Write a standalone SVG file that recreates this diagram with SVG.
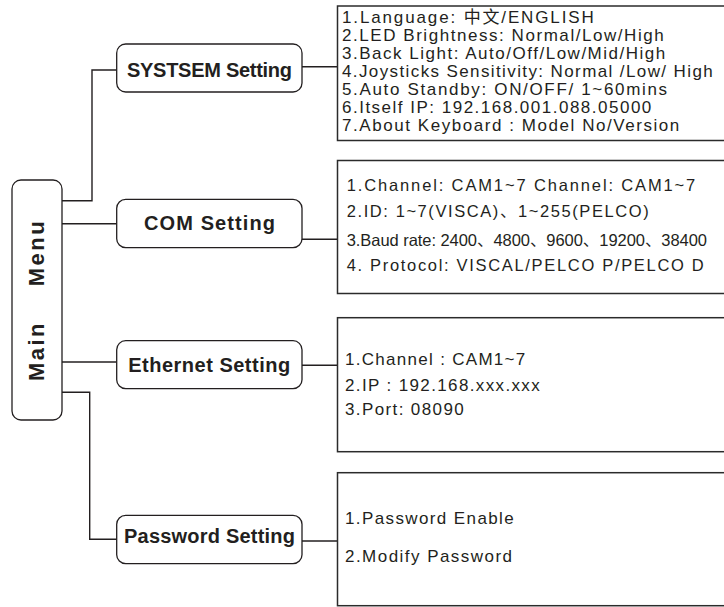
<svg xmlns="http://www.w3.org/2000/svg" width="724" height="607" viewBox="0 0 724 607" xml:space="preserve">
<style>
.bg{fill:#ffffff}
.node rect{fill:#ffffff;stroke:#231f20;stroke-width:1.3}
.nt{font-family:"Liberation Sans",Arial,"Noto Sans CJK SC",sans-serif;font-weight:bold;font-size:20px;fill:#231f20;text-anchor:middle}
.mt{font-family:"Liberation Sans",Arial,"Noto Sans CJK SC",sans-serif;font-weight:bold;font-size:22px;fill:#231f20;text-anchor:middle}
.box rect{fill:#ffffff;stroke:#2b2b2b;stroke-width:1.5}
.dt{font-family:"Liberation Sans",Arial,"Noto Sans CJK SC",sans-serif;font-size:17px;fill:#231f20}
.dt2{font-family:"Liberation Sans",Arial,"Noto Sans CJK SC",sans-serif;font-size:16.5px;fill:#231f20}
#connectors path{fill:none;stroke:#231f20;stroke-width:1.4}
</style>
<rect class="bg" x="0" y="0" width="724" height="607"/>

<g id="connectors">
  <path d="M62 200.7 H92 V70 H116.7"/>
  <path d="M62 223.7 H116.7"/>
  <path d="M62 362 H116.7"/>
  <path d="M62 392.3 H89.7 V539.3 H116.7"/>
  <path d="M302 66.7 H337.5"/>
  <path d="M302 239.3 H337.5"/>
  <path d="M302 365.3 H337.5"/>
  <path d="M302 541 H337.5"/>
</g>

<g id="main-menu" class="node">
  <rect x="12" y="180" width="50" height="240" rx="9" ry="9"/>
  <text class="mt" transform="translate(44,300) rotate(-90)" letter-spacing="2.5" word-spacing="26">Main Menu</text>
</g>

<g id="systsem-setting" class="node">
  <rect x="116.7" y="44" width="185.3" height="48" rx="9" ry="9"/>
  <text class="nt" x="209.5" y="77.3" textLength="165" lengthAdjust="spacing">SYSTSEM Setting</text>
</g>

<g id="com-setting" class="node">
  <rect x="116.7" y="199.3" width="185.3" height="48.4" rx="9" ry="9"/>
  <text class="nt" x="209.5" y="230" textLength="131" lengthAdjust="spacing">COM Setting</text>
</g>

<g id="ethernet-setting" class="node">
  <rect x="116.7" y="340.7" width="185.3" height="48" rx="9" ry="9"/>
  <text class="nt" x="209.2" y="371.7" textLength="162" lengthAdjust="spacing">Ethernet Setting</text>
</g>

<g id="password-setting" class="node">
  <rect x="116.7" y="515.3" width="185.3" height="48.4" rx="9" ry="9"/>
  <text class="nt" x="209.5" y="542.7" textLength="171" lengthAdjust="spacing">Password Setting</text>
</g>

<g id="system-details" class="box">
  <rect x="337.5" y="6" width="400" height="134.5"/>
  <text class="dt" x="342" y="22.7" textLength="251.7" lengthAdjust="spacing">1.Language:  中文/ENGLISH</text>
  <text class="dt" x="342" y="40.7" textLength="321.7" lengthAdjust="spacing">2.LED Brightness: Normal/Low/High</text>
  <text class="dt" x="342" y="58.8" textLength="323.3" lengthAdjust="spacing">3.Back Light: Auto/Off/Low/Mid/High</text>
  <text class="dt" x="342" y="76.8" textLength="370.7" lengthAdjust="spacing">4.Joysticks Sensitivity: Normal /Low/ High</text>
  <text class="dt" x="342" y="94.9" textLength="325" lengthAdjust="spacing">5.Auto Standby:  ON/OFF/ 1~60mins</text>
  <text class="dt" x="342" y="112.9" textLength="309.3" lengthAdjust="spacing">6.Itself IP: 192.168.001.088.05000</text>
  <text class="dt" x="342" y="131" textLength="337.3" lengthAdjust="spacing">7.About Keyboard :  Model No/Version</text>
</g>

<g id="com-details" class="box">
  <rect x="337.5" y="160.5" width="400" height="133"/>
  <text class="dt2" x="346.7" y="191.3" textLength="348.6" lengthAdjust="spacing">1.Channel: CAM1~7  Channel:  CAM1~7</text>
  <text class="dt2" x="346.7" y="216.6" textLength="302" lengthAdjust="spacing">2.ID: 1~7(VISCA)、1~255(PELCO)</text>
  <text class="dt2" x="346.7" y="246" textLength="360.3" lengthAdjust="spacing">3.Baud rate: 2400、4800、9600、19200、38400</text>
  <text class="dt2" x="346.7" y="270.7" textLength="357" lengthAdjust="spacing">4. Protocol:  VISCAL/PELCO P/PELCO D</text>
</g>

<g id="ethernet-details" class="box">
  <rect x="337.5" y="317.7" width="400" height="134"/>
  <text class="dt" x="345" y="365" textLength="180.3" lengthAdjust="spacing">1.Channel : CAM1~7</text>
  <text class="dt" x="345" y="390.7" textLength="194.7" lengthAdjust="spacing">2.IP : 192.168.xxx.xxx</text>
  <text class="dt" x="345" y="415" textLength="118.7" lengthAdjust="spacing">3.Port: 08090</text>
</g>

<g id="password-details" class="box">
  <rect x="337.5" y="472.7" width="400" height="133"/>
  <text class="dt" x="345" y="524" textLength="168.7" lengthAdjust="spacing">1.Password Enable</text>
  <text class="dt" x="345" y="561.7" textLength="167" lengthAdjust="spacing">2.Modify Password</text>
</g>
</svg>
